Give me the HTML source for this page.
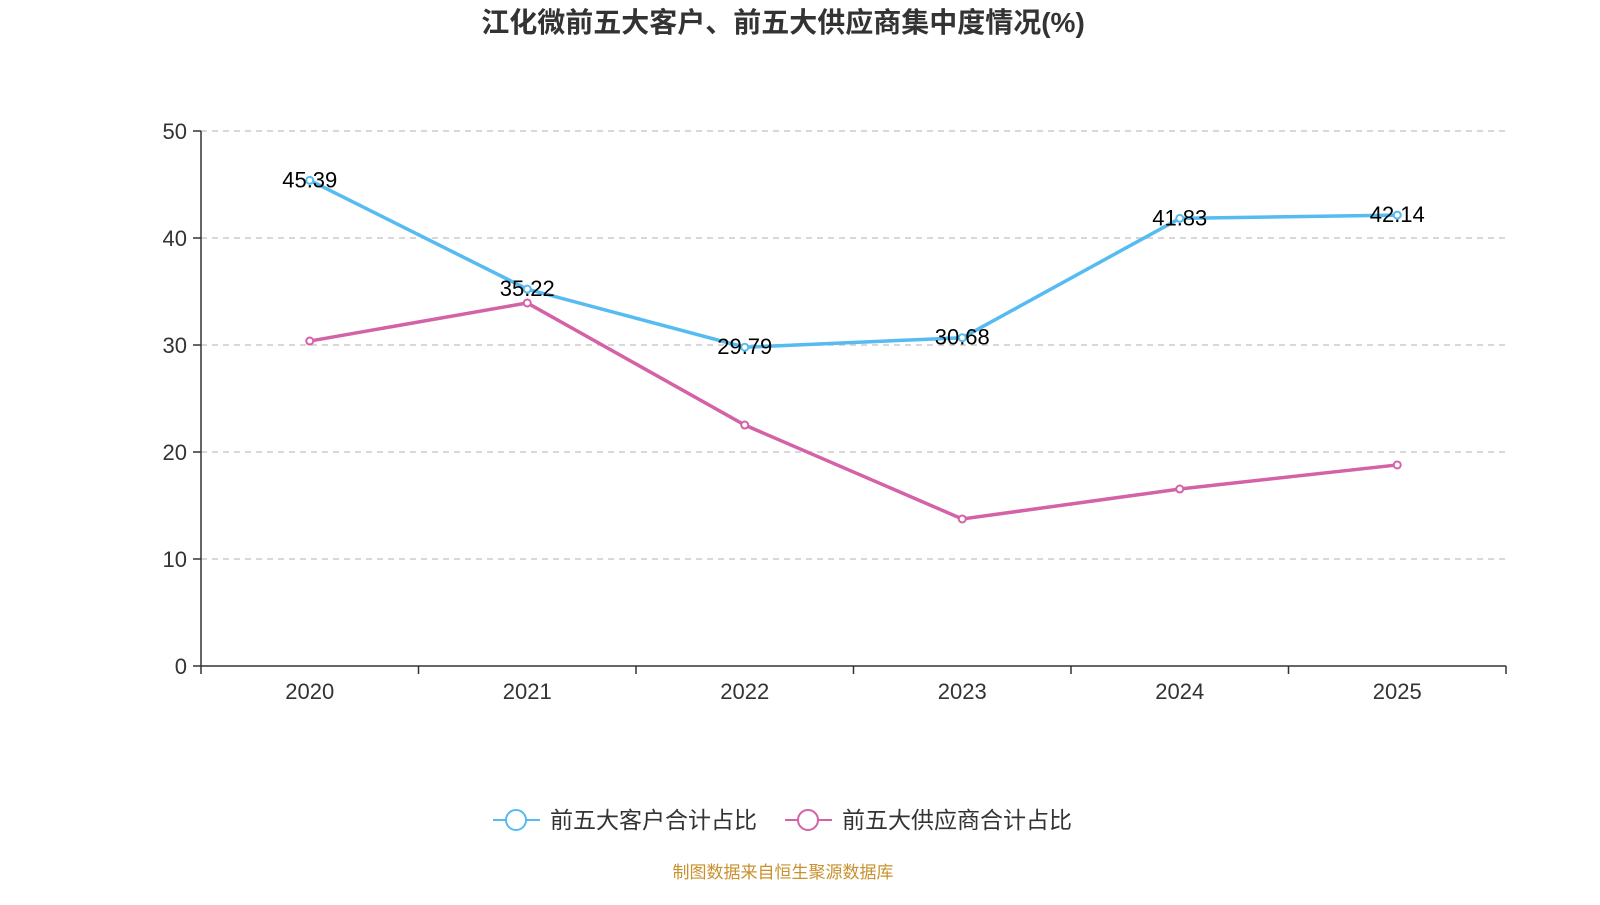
<!DOCTYPE html>
<html><head><meta charset="utf-8">
<style>
body{margin:0;background:#fff;width:1600px;height:900px;overflow:hidden;font-family:"Liberation Sans","Noto Sans CJK SC",sans-serif;}
</style></head>
<body>
<svg id="chart" width="1600" height="900" xmlns="http://www.w3.org/2000/svg" font-family="Liberation Sans, Noto Sans CJK SC, sans-serif"></svg>
<script>
const categories=["2020","2021","2022","2023","2024","2025"];
const customerValues=[45.39,35.22,29.79,30.68,41.83,42.14];
const supplierValues=[30.37,33.93,22.52,13.74,16.54,18.79];
const yTicks=[0,10,20,30,40,50];

const svg=document.getElementById('chart');
const NS='http://www.w3.org/2000/svg';
const L=201,R=1506,T=131,B=666,yMax=50;
const bandW=(R-L)/categories.length;
function xPos(i){return L+bandW*(i+0.5);}
function yPos(v){return B-(v/yMax)*(B-T);}
function mk(tag,attrs,parent){const e=document.createElementNS(NS,tag);for(const k in attrs)e.setAttribute(k,attrs[k]);(parent||svg).appendChild(e);return e;}

const title=mk('text',{x:783,y:32,'text-anchor':'middle','font-size':28,'font-weight':'bold',fill:'#333'});
title.textContent='江化微前五大客户、前五大供应商集中度情况(%)';



yTicks.forEach(t=>{
  const y=yPos(t);
  if(t>0){const g=mk('line',{x1:L,x2:R,y1:y,y2:y,stroke:'#ccc','stroke-width':1.5,'stroke-dasharray':'6,5'});
  
  }
  mk('line',{x1:L-8,x2:L,y1:y,y2:y,stroke:'#333','stroke-width':1.5});
  const tx=mk('text',{x:L-14,y:y+8,'text-anchor':'end','font-size':22,fill:'#333'});
  tx.textContent=t;
  
  
});
const ya=mk('line',{x1:L,x2:L,y1:T,y2:B,stroke:'#333','stroke-width':1.5});


const xa=mk('line',{x1:L,x2:R,y1:B,y2:B,stroke:'#333','stroke-width':1.5});


for(let i=0;i<=categories.length;i++){mk('line',{x1:L+bandW*i,x2:L+bandW*i,y1:B,y2:B+8,stroke:'#333','stroke-width':1.5});}
categories.forEach((c,i)=>{
  const tx=mk('text',{x:xPos(i),y:699,'text-anchor':'middle','font-size':22,fill:'#333'});
  tx.textContent=c;
  
  
});

function series(vals,color,name,labels){
  const pts=vals.map((v,i)=>xPos(i)+','+yPos(v)).join(' ');
  const pl=mk('polyline',{points:pts,fill:'none',stroke:color,'stroke-width':3.5});
  
  
  vals.forEach((v,i)=>{
    const c=mk('circle',{cx:xPos(i),cy:yPos(v),r:3.5,fill:'#fff',stroke:color,'stroke-width':2});
    
    
    if(labels){
      const t=mk('text',{x:xPos(i),y:yPos(v)+7,'text-anchor':'middle','font-size':22,fill:'#000'});
      t.textContent=v.toFixed(2);
      
      
    }
  });
}
series(supplierValues,'#d462a6','supplier',false);
series(customerValues,'#55bbf0','customer',true);

function legend(x,color,text,name){
  const g=mk('g',{});
  
  
  mk('line',{x1:x,x2:x+47,y1:820,y2:820,stroke:color,'stroke-width':2},g);
  mk('circle',{cx:x+23,cy:820,r:10,fill:'#fff',stroke:color,'stroke-width':2},g);
  const t=mk('text',{x:x+57,y:828,'font-size':23,fill:'#333'},g);
  t.textContent=text;
}
legend(493,'#55bbf0','前五大客户合计占比','legend-customer');
legend(785,'#d462a6','前五大供应商合计占比','legend-supplier');

const src=mk('text',{x:783,y:878,'text-anchor':'middle','font-size':17,fill:'#c9912e'});
src.textContent='制图数据来自恒生聚源数据库';


</script>
</body></html>
